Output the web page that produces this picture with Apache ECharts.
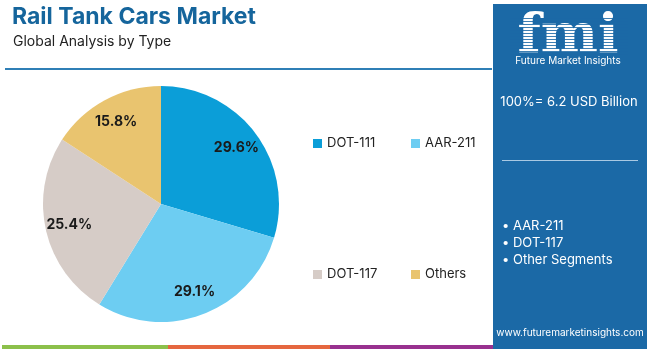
<!DOCTYPE html>
<html>
<head>
<meta charset="utf-8">
<script src="https://cdn.jsdelivr.net/npm/echarts@6/dist/echarts.min.js"></script>
<style>
html,body{margin:0;padding:0;background:#fff;}
#chart{width:650px;height:349px;}
</style>
</head>
<body>
<div id="chart"></div>
<script>
var categories = ['DOT-111', 'AAR-211', 'DOT-117', 'Others'];
var shares = [29.6, 29.1, 25.4, 15.8];
var colors = ['#0b9ed8', '#6dcdf2', '#d6ccc7', '#e9c46f'];
var panelBullets = ['• AAR-211', '• DOT-117', '• Other Segments'];
var totalText = '100%= 6.2 USD Billion';

var FONT = 'Inter, Roboto, "Open Sans", sans-serif';
var chart = echarts.init(document.getElementById('chart'), null, {renderer: 'canvas'});

var pieData = categories.map(function (c, i) {
  return {name: c, value: shares[i], itemStyle: {color: colors[i]}};
});
var labelData = categories.map(function (c, i) {
  return {name: c, value: shares[i]};
});

function legendAt(name, left, top) {
  return {
    data: [name], left: left, top: top, orient: 'horizontal', padding: 0,
    icon: 'rect', itemWidth: 9, itemHeight: 9, itemGap: 5,
    selectedMode: false,
    textStyle: {fontFamily: FONT, fontSize: 13, color: '#222', padding: [0, 0, 0, 0]}
  };
}

function txt(x, y, text, font, fill, align) {
  return {type: 'text', x: x, y: y, style: {text: text, font: font, fill: fill, textAlign: align || 'left', textVerticalAlign: 'middle'}};
}

var graphics = [
  txt(12, 17, 'Rail Tank Cars Market', 'bold 23px ' + FONT, '#15659c'),
  txt(13, 42, 'Global Analysis by Type', '14px ' + FONT, '#222'),
  {type: 'rect', shape: {x: 5, y: 68, width: 487, height: 2}, style: {fill: '#2f7fb6'}},
  {type: 'rect', shape: {x: 493, y: 4, width: 154, height: 345}, style: {fill: '#1b69a6'}},
  txt(568, 38, 'fmi', 'bold 54px "DejaVu Serif", serif', '#fff', 'center'),
  txt(568, 61, 'Future Market Insights', '10px ' + FONT, '#fff', 'center'),
  txt(569, 102, totalText, '13px ' + FONT, '#fff', 'center'),
  {type: 'rect', shape: {x: 502, y: 160, width: 136, height: 1}, style: {fill: '#a9c9e3'}},
  txt(570, 333, 'www.futuremarketinsights.com', '10px ' + FONT, '#fff', 'center'),
  {type: 'rect', shape: {x: 2, y: 345, width: 166, height: 4}, style: {fill: '#8cc04b'}},
  {type: 'rect', shape: {x: 168, y: 345, width: 162, height: 4}, style: {fill: '#e5673f'}},
  {type: 'rect', shape: {x: 330, y: 345, width: 163, height: 4}, style: {fill: '#98318f'}}
];
// stripes on logo
for (var s = 0; s < 13; s++) {
  graphics.push({type: 'rect', shape: {x: 510, y: 18 + s * 3, width: 118, height: 1}, style: {fill: '#1b69a6', opacity: 0.85}});
}
panelBullets.forEach(function (t, i) {
  graphics.push(txt(502, 226 + i * 17, t, '13px ' + FONT, '#fff'));
});

chart.setOption({
  animation: false,
  legend: [
    legendAt('DOT-111', 313, 137),
    legendAt('AAR-211', 411, 137),
    legendAt('DOT-117', 313, 268),
    legendAt('Others', 411, 268)
  ],
  graphic: graphics,
  series: [
    {
      type: 'pie', center: [161, 204], radius: [0, 118], startAngle: 90, clockwise: true,
      data: pieData, label: {show: false}, labelLine: {show: false}, silent: true
    },
    {
      type: 'pie', center: [161, 204], radius: [64, 118], startAngle: 90, clockwise: true,
      data: labelData, silent: true, legendHoverLink: false,
      itemStyle: {color: 'rgba(0,0,0,0)'},
      label: {show: true, position: 'inside', formatter: function (p) { return p.value.toFixed(1) + '%'; },
        fontFamily: FONT, fontWeight: 'bold', fontSize: 14, color: '#1a1a1a'},
      labelLine: {show: false}
    }
  ]
});
</script>
</body>
</html>
